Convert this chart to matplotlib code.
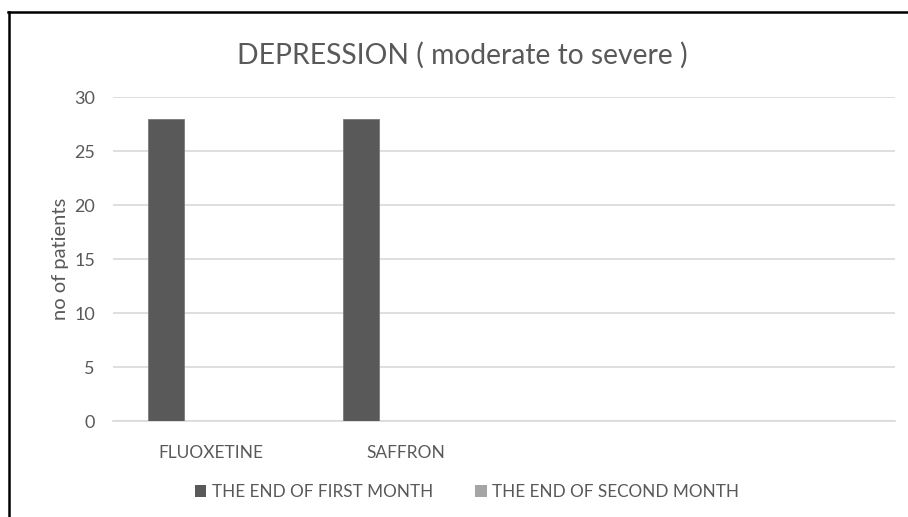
import matplotlib.pyplot as plt
import numpy as np
from matplotlib.lines import Line2D
from matplotlib.patches import Patch

plt.rcParams['font.family'] = ['Lato', 'DejaVu Sans']

# four category slots, only the first two are named
categories = ["FLUOXETINE", "SAFFRON", "", ""]
first_month = [28, 28, 0, 0]
second_month = [0, 0, 0, 0]
series_names = ["THE END OF FIRST MONTH", "THE END OF SECOND MONTH"]
yticks = [0, 5, 10, 15, 20, 25, 30]

textColor = "#595959"
colors = ["#595959", "#A5A5A5"]
gridColor = "#D9D9D9"

fig = plt.figure(figsize=(9.08, 5.17), dpi=100)
ax = fig.add_axes([113 / 908, 1 - 421 / 517, 782 / 908, 324 / 517])

x = np.arange(len(categories))
width = 0.184
offset = -0.229
ax.bar(x + offset, first_month, width, color=colors[0], edgecolor="#7a7a7a", linewidth=0.6, zorder=3)
ax.bar(x + offset + width, second_month, width, color=colors[1], linewidth=0, zorder=3)

ax.set_xlim(-0.5, len(categories) - 0.5)
ax.set_ylim(0, 30)
ax.set_yticks(yticks)
ax.set_xticks(x)
ax.set_xticklabels(categories)
ax.yaxis.grid(True, color=gridColor, linewidth=1.2, zorder=0)
ax.tick_params(axis='both', length=0, colors=textColor)
ax.tick_params(axis='y', pad=13, labelsize=13)
ax.tick_params(axis='x', pad=17, labelsize=12.5)
for side in ["top", "right", "left"]:
    ax.spines[side].set_visible(False)
ax.spines["bottom"].set_color(gridColor)
ax.spines["bottom"].set_linewidth(1.2)

ax.set_ylabel("no of patients", color=textColor, fontsize=14.5, labelpad=4)
fig.text(462 / 908, 1 - 55 / 517, "DEPRESSION ( moderate to severe )", ha="center", va="center",
         color=textColor, fontsize=20.3)

handles = [Patch(facecolor=c, edgecolor="none") for c in colors]
fig.legend(handles, series_names, loc="center", bbox_to_anchor=(467 / 908, 1 - 492 / 517), ncol=2,
           frameon=False, fontsize=12.3, labelcolor=textColor, handlelength=0.65, handleheight=0.65,
           handletextpad=0.3, columnspacing=2.5)

# outer frame lines along the top and left edges
fig.add_artist(Line2D([8 / 908, 1], [1 - 12 / 517, 1 - 12 / 517], color="black", linewidth=1.8))
fig.add_artist(Line2D([8.5 / 908, 8.5 / 908], [0, 1 - 12 / 517], color="black", linewidth=1.8))

plt.savefig("out.png", dpi=100)
plt.close()
